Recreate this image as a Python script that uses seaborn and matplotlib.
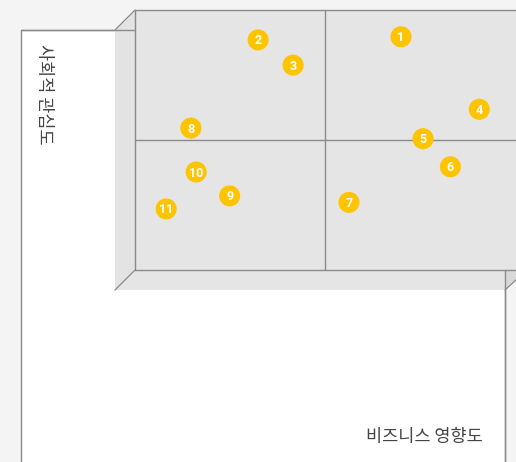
import pandas as pd
import numpy as np
import matplotlib
matplotlib.use('Agg')
import matplotlib.pyplot as plt
import seaborn as sns
from matplotlib.patches import Polygon, Rectangle

sns.set_style('white')
plt.rcParams['font.family'] = ['Noto Sans CJK KR', 'DejaVu Sans']

# data: business impact (x) vs social interest (y), 0-100 scale
labels = ['1', '2', '3', '4', '5', '6', '7', '8', '9', '10', '11']
impact = [70.0, 32.4, 41.6, 90.6, 75.8, 83.0, 56.3, 14.7, 24.9, 16.1, 8.2]
interest = [89.7, 88.5, 78.8, 61.8, 50.5, 39.7, 26.0, 54.6, 28.5, 37.7, 23.5]
x_label = '비즈니스 영향도'
y_label = '사회적 관심도'

df = pd.DataFrame({'label': labels, 'impact': impact, 'interest': interest})

line_c = '#8a8a8a'
W, H = 516, 462
fig = plt.figure(figsize=(W / 100, H / 100), dpi=100, facecolor='#f4f4f4')

# background layer in pixel coordinates for the box decoration
bg = fig.add_axes([0, 0, 1, 1])
bg.set_xlim(0, W)
bg.set_ylim(H, 0)
bg.axis('off')
bg.set_facecolor('none')

# white panel
bg.add_patch(Rectangle((21, 30), 505 - 21, 480, facecolor='white', edgecolor=line_c, lw=1.0))
# back plane
bg.add_patch(Rectangle((135, 10), 400, 260, facecolor='#e5e5e5', edgecolor='none'))
# left wall
bg.add_patch(Polygon([(115, 30), (135, 10), (135, 270), (115, 290)], closed=True,
                     facecolor='#e3e3e3', edgecolor='none'))
# floor
bg.add_patch(Polygon([(115, 290), (135, 270), (505, 270), (505, 290)], closed=True,
                     facecolor='#e5e5e5', edgecolor='none'))
# small right bevel
bg.add_patch(Polygon([(505, 270), (517, 270), (517, 279), (505, 290)], closed=True,
                     facecolor='#d9d9d9', edgecolor='none'))
# edges
bg.plot([21, 135], [30, 30], color=line_c, lw=1.0)
bg.plot([115, 135], [30, 10], color=line_c, lw=0.9)
bg.plot([115, 135], [290, 270], color=line_c, lw=0.9)
bg.plot([505, 517], [290, 279], color=line_c, lw=0.9)
bg.plot([135, 517], [10, 10], color=line_c, lw=1.0)
bg.plot([135, 135], [10, 270], color=line_c, lw=1.0)
bg.plot([135, 517], [270, 270], color=line_c, lw=1.0)
bg.plot([505, 505], [270, 470], color=line_c, lw=1.0)

# axis titles
bg.text(44, 44, y_label, rotation=-90, ha='center', va='top', fontsize=12.6, color='#444444')
bg.text(483, 437, x_label, ha='right', va='center', fontsize=12.6, color='#444444')

# data axes over the back plane
ax = fig.add_axes([135 / W, (H - 270) / H, 380 / W, 260 / H])
ax.set_xlim(0, 100)
ax.set_ylim(0, 100)
ax.set_facecolor('none')
ax.axis('off')
ax.axvline(50, color=line_c, lw=1.0)
ax.axhline(50, color=line_c, lw=1.0, clip_on=False)

sns.scatterplot(data=df, x='impact', y='interest', ax=ax, s=230, color='#ffc400',
                edgecolor='none', legend=False, zorder=3, clip_on=False)
for _, r in df.iterrows():
    ax.text(r['impact'], r['interest'] - 0.4, r['label'], ha='center', va='center',
            fontsize=9, fontweight='bold', color='white', family=['Roboto', 'DejaVu Sans'],
            zorder=4)

fig.savefig('out.png', dpi=100, facecolor=fig.get_facecolor())
